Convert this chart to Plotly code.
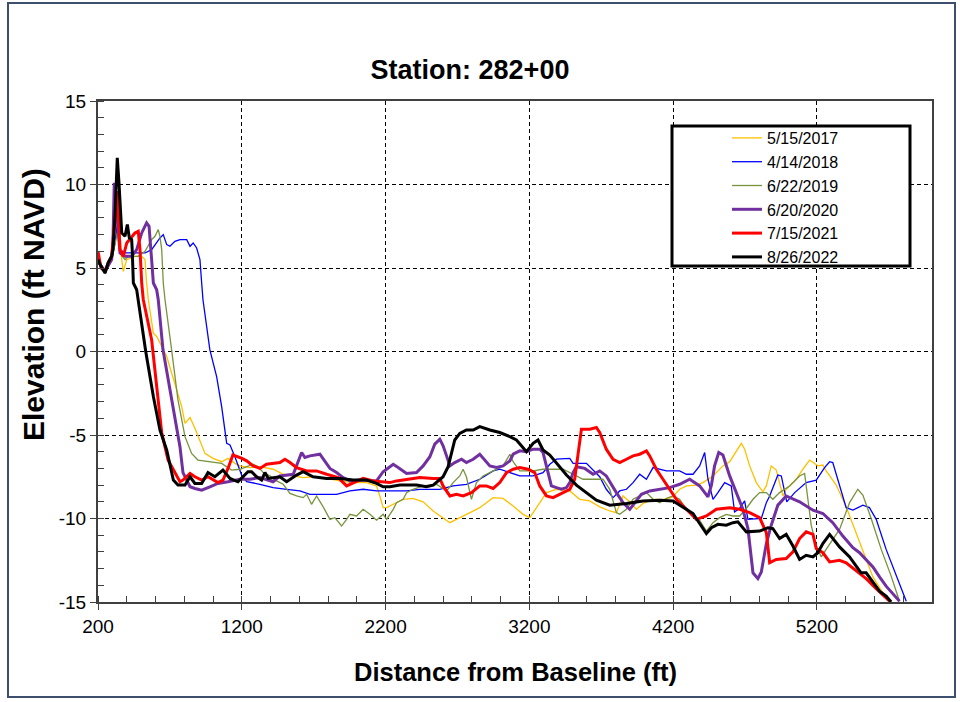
import plotly.graph_objects as go

# ---------------- data (distance ft, elevation ft NAVD) ----------------
series_names = ["5/15/2017", "4/14/2018", "6/22/2019", "6/20/2020", "7/15/2021", "8/26/2022"]

x_2017 = [200, 249, 295, 318, 334, 353, 365, 376, 400, 457, 504, 527, 538, 550, 585, 608, 678, 735, 782, 805,
          840, 874, 909, 944, 999, 1060, 1104, 1152, 1187, 1257, 1326, 1418, 1488, 1558, 1627, 1696, 1790, 1882, 1975, 2068,
          2137, 2160, 2183, 2207, 2253, 2322, 2391, 2461, 2531, 2600, 2647, 2693, 2762, 2855, 2948, 3017, 3087, 3156, 3203, 3249,
          3319, 3388, 3481, 3550, 3620, 3689, 3759, 3805, 3851, 3898, 3944, 3990, 4060, 4153, 4199, 4245, 4292, 4361, 4407, 4477,
          4546, 4593, 4639, 4674, 4697, 4732, 4778, 4824, 4848, 4882, 4917, 4963, 4986, 5056, 5102, 5149, 5206, 5241, 5264, 5334,
          5403, 5473, 5542, 5589, 5658, 5705]
y_2017 = [5.3, 4.8, 5.5, 6.5, 7.5, 7.1, 5.5, 4.8, 5.5, 5.7, 5.7, 5.5, 4.1, 3.1, 1.1, 0.9, -0.3, -1.9, -3.3, -4.3,
          -3.95, -4.6, -5.3, -6.1, -6.4, -6.6, -6.4, -6.7, -6.85, -6.95, -6.9, -7.05, -7.35, -7.45, -7.55, -7.5, -7.6, -7.75, -7.85, -7.85,
          -8.05, -8.65, -9.35, -9.35, -9.15, -8.85, -8.8, -9.0, -9.55, -9.95, -10.25, -10.05, -9.75, -9.35, -8.75, -8.8, -9.25, -9.75, -9.95, -9.35,
          -8.45, -8.25, -8.35, -8.85, -8.95, -9.3, -9.55, -9.65, -8.65, -9.0, -9.45, -9.1, -8.85, -8.85, -8.7, -8.25, -8.05, -8.0, -7.85, -7.45,
          -6.85, -6.6, -5.95, -5.5, -5.85, -6.85, -7.85, -8.4, -8.05, -6.85, -7.1, -8.65, -8.25, -7.65, -7.05, -6.5, -6.85, -6.8, -7.15, -8.0,
          -9.3, -10.85, -12.35, -13.5, -14.45, -14.95]

x_2018 = [200, 249, 295, 318, 340, 353, 388, 457, 527, 573, 631, 654, 678, 700, 735, 770, 817, 840, 862, 886,
          909, 921, 930, 978, 1025, 1060, 1095, 1118, 1152, 1199, 1234, 1326, 1418, 1512, 1604, 1674, 1766, 1859, 1952, 2044,
          2137, 2230, 2346, 2438, 2531, 2577, 2670, 2762, 2855, 2948, 2994, 3064, 3133, 3226, 3295, 3342, 3388, 3481, 3504, 3597,
          3643, 3689, 3735, 3782, 3828, 3875, 3921, 3967, 4014, 4060, 4153, 4245, 4292, 4338, 4384, 4419, 4442, 4477, 4511, 4558,
          4604, 4627, 4662, 4697, 4720, 4813, 4848, 4871, 4928, 4952, 4990, 5045, 5125, 5195, 5253, 5288, 5310, 5357, 5403, 5450,
          5519, 5565, 5612, 5681, 5751, 5821]
y_2018 = [5.3, 4.8, 5.5, 6.5, 8.0, 6.1, 5.9, 5.9, 5.9, 6.1, 6.8, 7.0, 6.4, 6.3, 6.6, 6.7, 6.7, 6.3, 6.5, 6.2,
          5.5, 4.1, 3.1, 0.1, -1.5, -3.3, -5.5, -5.6, -6.3, -7.4, -7.8, -7.95, -8.15, -8.25, -8.35, -8.55, -8.55, -8.55, -8.35, -8.25,
          -8.35, -8.35, -8.35, -8.25, -8.25, -8.25, -8.05, -7.95, -7.65, -7.15, -7.05, -7.25, -7.45, -7.45, -7.25, -6.75, -6.45, -6.4, -6.7, -6.7,
          -7.1, -7.5, -8.25, -8.75, -8.35, -8.25, -7.85, -7.35, -7.65, -6.95, -7.15, -7.15, -7.35, -7.35, -6.85, -6.05, -7.65, -8.85, -8.45, -7.85,
          -8.05, -9.6, -9.4, -8.95, -10.05, -10.0, -9.05, -8.65, -7.4, -7.45, -9.0, -8.45, -7.85, -7.7, -6.95, -6.6, -6.65, -8.05, -9.35, -9.5,
          -9.2, -9.35, -10.05, -11.85, -13.45, -14.95]

x_2019 = [200, 249, 295, 318, 340, 353, 388, 411, 480, 527, 573, 596, 619, 631, 643, 654, 666, 712, 756, 805,
          851, 895, 978, 1060, 1129, 1187, 1279, 1314, 1349, 1396, 1442, 1488, 1535, 1581, 1627, 1651, 1685, 1720, 1766, 1813,
          1847, 1894, 1929, 1952, 1998, 2044, 2091, 2137, 2183, 2207, 2253, 2276, 2322, 2346, 2391, 2461, 2554, 2624, 2670, 2716,
          2739, 2762, 2797, 2832, 2878, 2948, 3017, 3064, 3087, 3133, 3226, 3295, 3434, 3504, 3573, 3643, 3712, 3759, 3805, 3828,
          3875, 3921, 3967, 4014, 4060, 4106, 4153, 4199, 4245, 4292, 4338, 4384, 4431, 4477, 4523, 4569, 4616, 4662, 4709, 4755,
          4801, 4848, 4893, 4940, 5010, 5079, 5114, 5137, 5160, 5195, 5230, 5264, 5299, 5357, 5427, 5484, 5519, 5577, 5647, 5716,
          5774]
y_2019 = [5.3, 4.8, 5.5, 6.5, 7.3, 5.9, 5.5, 5.7, 5.7, 6.0, 6.7, 6.9, 7.3, 6.9, 6.1, 4.1, 3.1, 0.1, -2.9, -5.1,
          -6.1, -6.5, -6.6, -6.7, -7.1, -7.05, -6.75, -6.9, -7.25, -7.45, -7.75, -7.95, -8.5, -8.65, -8.75, -8.55, -9.15, -8.65, -9.3, -10.05,
          -9.95, -10.45, -10.05, -9.75, -9.85, -9.45, -9.75, -10.1, -9.75, -10.05, -9.45, -9.05, -8.85, -8.45, -8.25, -8.05, -7.95, -8.35, -7.85, -7.45,
          -7.05, -7.5, -8.85, -7.85, -7.45, -7.15, -6.85, -6.15, -6.6, -7.15, -7.15, -7.05, -7.05, -7.35, -7.65, -7.65, -7.65, -8.25, -9.65, -9.75,
          -9.45, -8.85, -8.65, -8.45, -8.85, -9.05, -8.8, -8.65, -8.85, -9.45, -9.85, -10.1, -10.75, -10.25, -9.95, -9.75, -9.85, -9.85, -9.4, -8.85,
          -8.45, -8.45, -8.85, -8.45, -8.05, -7.45, -7.3, -8.7, -10.4, -11.65, -12.3, -11.85, -11.4, -10.65, -9.05, -8.25, -8.6, -10.0, -11.85, -13.45,
          -14.95]

x_2020 = [200, 249, 295, 304, 313, 330, 353, 388, 434, 469, 504, 538, 555, 573, 585, 608, 619, 652, 714, 735,
          770, 791, 840, 874, 921, 978, 1034, 1104, 1187, 1257, 1326, 1418, 1465, 1558, 1616, 1639, 1674, 1743, 1766, 1813,
          1859, 1905, 1952, 2021, 2137, 2183, 2207, 2253, 2287, 2346, 2415, 2461, 2508, 2542, 2577, 2600, 2624, 2647, 2681, 2728,
          2762, 2809, 2855, 2925, 2971, 3017, 3064, 3087, 3133, 3180, 3226, 3272, 3295, 3319, 3353, 3388, 3423, 3458, 3481, 3504,
          3527, 3585, 3643, 3689, 3735, 3805, 3851, 3898, 3932, 3979, 4037, 4106, 4176, 4245, 4315, 4384, 4442, 4466, 4488, 4517,
          4546, 4593, 4639, 4685, 4720, 4755, 4789, 4813, 4848, 4882, 4928, 4986, 5079, 5172, 5241, 5310, 5380, 5450, 5496, 5542,
          5589, 5635, 5681, 5774]
y_2020 = [5.4, 4.8, 5.5, 6.5, 10.1, 8.5, 5.9, 5.7, 5.7, 6.1, 7.1, 7.7, 7.5, 5.5, 4.1, 3.7, 3.1, 0.1, -2.9, -4.1,
          -5.7, -7.25, -8.1, -8.2, -8.3, -8.1, -7.9, -7.8, -7.65, -7.65, -7.55, -7.8, -7.45, -7.35, -6.05, -6.35, -6.25, -6.15, -6.45, -7.0,
          -7.25, -7.55, -7.75, -7.7, -7.75, -7.2, -7.05, -6.75, -6.95, -7.3, -7.25, -6.85, -6.3, -5.55, -5.25, -5.65, -6.25, -6.85, -6.65, -6.45,
          -6.65, -6.45, -6.15, -6.85, -6.95, -6.85, -6.55, -6.15, -5.95, -6.0, -5.85, -5.85, -6.05, -6.85, -8.05, -8.15, -8.25, -8.15, -7.85, -7.25,
          -6.9, -7.0, -7.35, -7.15, -7.45, -8.45, -9.05, -9.45, -9.05, -8.55, -8.35, -8.25, -8.15, -7.95, -7.65, -8.05, -8.7, -8.0, -6.85, -6.05,
          -6.2, -7.45, -8.45, -9.45, -10.6, -13.25, -13.6, -13.2, -11.5, -10.4, -9.2, -8.65, -9.0, -9.5, -9.7, -10.25, -11.05, -11.75, -12.05, -12.45,
          -12.9, -13.5, -14.05, -14.95]

x_2021 = [200, 221, 249, 270, 295, 318, 334, 353, 376, 400, 434, 457, 480, 492, 504, 515, 573, 608, 643, 687,
          735, 770, 791, 840, 874, 921, 965, 1034, 1069, 1104, 1138, 1173, 1201, 1234, 1279, 1326, 1372, 1465, 1500, 1535,
          1581, 1651, 1720, 1790, 1870, 1929, 1975, 2044, 2114, 2160, 2230, 2276, 2346, 2438, 2531, 2577, 2600, 2647, 2693, 2739,
          2797, 2855, 2901, 2948, 2994, 3041, 3087, 3133, 3191, 3237, 3272, 3319, 3364, 3411, 3481, 3515, 3550, 3562, 3620, 3666,
          3689, 3735, 3782, 3828, 3875, 3921, 3967, 4014, 4037, 4083, 4129, 4176, 4222, 4292, 4361, 4431, 4500, 4593, 4662, 4732,
          4801, 4848, 4871, 4917, 4986, 5033, 5079, 5125, 5172, 5195, 5241, 5288, 5357, 5403, 5473, 5542, 5612, 5705]
y_2021 = [6.0, 5.0, 4.8, 5.3, 5.7, 8.1, 9.6, 6.1, 5.7, 6.5, 6.9, 7.1, 7.2, 6.1, 4.1, 3.1, 0.7, -1.9, -4.85, -6.5,
          -7.25, -7.8, -7.7, -7.3, -7.5, -7.7, -7.5, -7.85, -7.7, -7.0, -6.2, -6.3, -6.4, -6.55, -6.85, -7.0, -6.75, -6.65, -6.45, -6.65,
          -6.95, -7.15, -7.15, -7.35, -7.55, -8.05, -7.85, -7.6, -7.75, -7.8, -7.85, -7.75, -7.65, -7.55, -7.6, -7.6, -8.05, -8.65, -8.55, -8.65,
          -8.45, -8.05, -8.05, -8.2, -7.85, -7.25, -7.05, -6.95, -7.05, -7.25, -8.05, -8.65, -8.75, -8.55, -8.25, -7.65, -5.25, -4.65, -4.65, -4.55,
          -4.85, -5.85, -6.45, -6.65, -6.45, -6.25, -6.15, -5.95, -6.25, -7.05, -7.65, -8.25, -8.85, -9.45, -10.05, -9.85, -9.45, -9.35, -9.45, -9.65,
          -9.95, -10.85, -12.65, -12.45, -12.4, -12.0, -11.2, -10.8, -10.95, -11.8, -12.05, -12.6, -12.5, -12.65, -13.15, -13.6, -14.2, -14.95]

x_2022 = [200, 221, 249, 270, 295, 304, 318, 334, 346, 365, 388, 404, 418, 434, 438, 446, 469, 532, 585, 631,
          678, 724, 756, 805, 840, 874, 921, 965, 1013, 1069, 1118, 1173, 1243, 1268, 1303, 1338, 1361, 1384, 1465, 1512,
          1581, 1627, 1696, 1790, 1882, 1975, 2068, 2137, 2183, 2230, 2299, 2346, 2415, 2484, 2531, 2600, 2635, 2658, 2681, 2716,
          2762, 2809, 2855, 2925, 2994, 3064, 3110, 3180, 3226, 3260, 3295, 3342, 3388, 3458, 3527, 3597, 3666, 3759, 3875, 3990,
          4106, 4199, 4268, 4338, 4384, 4431, 4466, 4511, 4569, 4616, 4650, 4709, 4801, 4859, 4893, 4940, 4986, 5033, 5079, 5125,
          5172, 5206, 5241, 5288, 5357, 5427, 5473, 5507, 5542, 5589, 5635, 5681, 5716]
y_2022 = [5.5, 5.1, 4.7, 5.3, 5.7, 6.1, 8.1, 11.6, 10.1, 7.1, 6.9, 7.6, 6.8, 6.7, 6.1, 4.1, 3.7, 0.0, -2.7, -4.7,
          -5.9, -7.7, -8.0, -8.0, -7.5, -7.9, -7.9, -7.25, -7.5, -7.1, -7.6, -7.8, -7.2, -7.2, -7.5, -7.7, -7.25, -7.6, -7.5, -7.8,
          -7.4, -7.2, -7.5, -7.6, -7.6, -7.7, -7.7, -7.9, -8.1, -8.1, -8.0, -8.0, -8.0, -8.1, -8.0, -7.5, -6.9, -6.1, -5.3, -4.9,
          -4.7, -4.7, -4.5, -4.7, -4.85, -5.1, -5.3, -6.0, -5.5, -5.3, -5.9, -6.2, -6.65, -7.4, -8.0, -8.45, -8.9, -9.2, -9.1, -8.95,
          -8.9, -8.95, -9.3, -9.7, -10.3, -10.9, -10.55, -10.35, -10.4, -10.25, -10.2, -10.8, -10.75, -10.55, -10.6, -11.2, -10.95, -11.65, -12.45, -12.2,
          -12.3, -12.05, -11.5, -10.95, -11.7, -12.3, -12.85, -13.25, -13.25, -13.8, -14.35, -14.65, -15.0]

x_tickvals = [200, 1200, 2200, 3200, 4200, 5200]
x_ticktext = ["200", "1200", "2200", "3200", "4200", "5200"]
y_tickvals = [-15, -10, -5, 0, 5, 10, 15]
y_ticktext = ["-15", "-10", "-5", "0", "5", "10", "15"]

title_text = "Station: 282+00"
x_title = "Distance from Baseline (ft)"
y_title = "Elevation (ft NAVD)"

# ---------------- styling ----------------
xs = [x_2017, x_2018, x_2019, x_2020, x_2021, x_2022]
ys = [y_2017, y_2018, y_2019, y_2020, y_2021, y_2022]
colors = ["#FFC000", "#0000FF", "#77933C", "#7030A0", "#FF0000", "#000000"]
widths = [1.3, 1.3, 1.3, 3, 3, 3]

FONT = "Liberation Sans, Arial, sans-serif"

fig = go.Figure()
for name, x, y, c, w in zip(series_names, xs, ys, colors, widths):
    n = min(len(x), len(y))
    fig.add_trace(go.Scatter(x=x[:n], y=y[:n], mode="lines", name=name,
                             line=dict(color=c, width=w)))

# plot area in px: x 98..932, y 101..602
L, R, T, B = 98, 932, 101, 602
W, H = 960, 702
pw, ph = R - L, B - T

def px_x(p):
    return (p - L) / pw

def px_y(p):
    return (B - p) / ph

axis_line = "#404040"
fig.update_layout(
    width=W, height=H,
    margin=dict(l=L, r=W - R, t=T, b=H - B),
    paper_bgcolor="white", plot_bgcolor="white",
    font=dict(family=FONT, color="black"),
    title=dict(text=title_text, x=470 / W, xref="container", xanchor="center",
               y=1 - 70 / H, yref="container", yanchor="middle",
               font=dict(size=27, family=FONT, color="black", weight="bold")),
    showlegend=True,
    legend=dict(x=px_x(727), y=px_y(121), xanchor="left", yanchor="top",
                bgcolor="rgba(0,0,0,0)", borderwidth=0,
                font=dict(size=16, family=FONT, color="black"),
                tracegroupgap=0),
    xaxis=dict(range=[200, 6000], tickvals=x_tickvals, ticktext=x_ticktext,
               showline=True, linecolor=axis_line, linewidth=2, mirror=True,
               ticks="outside", ticklen=6, tickcolor=axis_line, tickwidth=1,
               tickfont=dict(size=19, family=FONT, color="black"),
               showgrid=True, gridcolor="black", gridwidth=1, griddash="4px,3px",
               zeroline=False,
               minor=dict(dtick=200, tick0=200, ticks="inside", ticklen=6,
                          tickcolor=axis_line, tickwidth=1, showgrid=False)),
    yaxis=dict(range=[-15, 15], tickvals=y_tickvals, ticktext=y_ticktext,
               showline=True, linecolor=axis_line, linewidth=2, mirror=True,
               ticks="outside", ticklen=6, tickcolor=axis_line, tickwidth=1,
               tickfont=dict(size=19, family=FONT, color="black"),
               showgrid=True, gridcolor="black", gridwidth=1, griddash="4px,3px",
               zeroline=False,
               minor=dict(dtick=1, tick0=0, ticks="inside", ticklen=6,
                          tickcolor=axis_line, tickwidth=1, showgrid=False)),
    annotations=[
        dict(text=x_title, xref="paper", yref="paper", x=px_x(515), y=px_y(672),
             xanchor="center", yanchor="middle", showarrow=False,
             font=dict(size=25.5, family=FONT, color="black", weight="bold")),
        dict(text=y_title, xref="paper", yref="paper", x=px_x(33), y=px_y(305),
             xanchor="center", yanchor="middle", showarrow=False, textangle=-90,
             font=dict(size=30, family=FONT, color="black", weight="bold")),
    ],
    shapes=[
        # legend frame
        dict(type="rect", xref="paper", yref="paper",
             x0=px_x(672), x1=px_x(910), y0=px_y(266), y1=px_y(126),
             line=dict(color="black", width=3), fillcolor="white", layer="above"),
        # outer chart border
        dict(type="rect", xref="paper", yref="paper",
             x0=px_x(8), x1=px_x(955), y0=px_y(697), y1=px_y(3),
             line=dict(color="#3E4F6E", width=2), fillcolor="rgba(0,0,0,0)", layer="above"),
    ],
)

fig.write_html("out.html", config={"displayModeBar": False},
               post_script="document.body.style.margin='0px';document.body.style.padding='0px';")
